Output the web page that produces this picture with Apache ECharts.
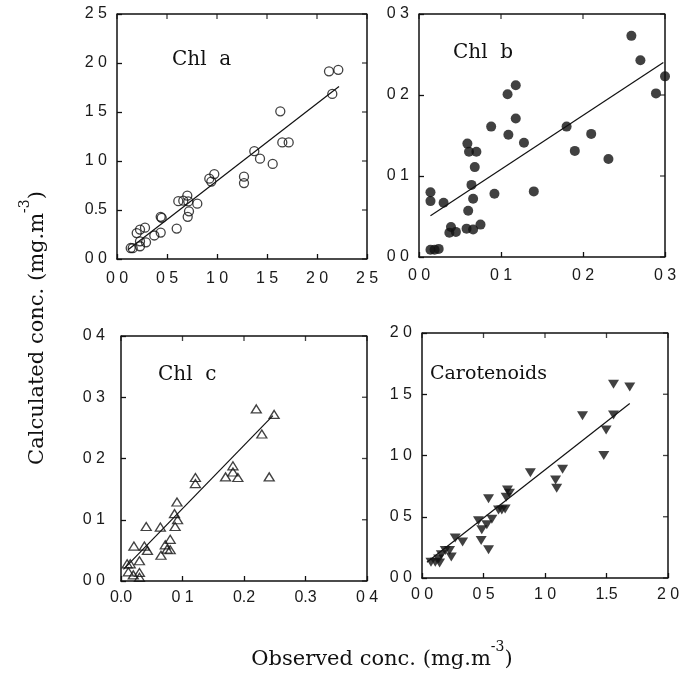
<!DOCTYPE html>
<html><head><meta charset="utf-8">
<script src="https://cdn.jsdelivr.net/npm/echarts@6/dist/echarts.min.js"></script>
<style>html,body{margin:0;padding:0;background:#fff}#c{width:683px;height:675px}#d{position:absolute;left:2px;top:600px;font:10px monospace;color:#c00;width:200px;white-space:pre-wrap}</style>
</head><body><div id="c"></div><div id="d"></div>
<script>
// ---- Data ----
const chlA = [[0.137,0.112],[0.157,0.11],[0.197,0.265],[0.23,0.30],[0.28,0.32],[0.23,0.18],[0.23,0.13],[0.29,0.17],
  [0.373,0.24],[0.437,0.27],[0.437,0.43],[0.447,0.42],[0.597,0.31],[0.613,0.59],[0.663,0.595],[0.703,0.646],
  [0.713,0.588],[0.72,0.486],[0.707,0.43],[0.803,0.565],[0.923,0.82],[0.943,0.79],[0.973,0.867],[1.27,0.84],
  [1.27,0.775],[1.373,1.10],[1.43,1.024],[1.557,0.97],[1.633,1.507],[1.653,1.19],[1.717,1.19],[2.12,1.915],
  [2.213,1.93],[2.153,1.684]];
const chlAFit = [[0.11,0.095],[2.22,1.76]];
const chlB = [[0.014,0.080],[0.014,0.069],[0.014,0.009],[0.019,0.009],[0.024,0.010],[0.030,0.067],[0.037,0.030],
  [0.039,0.037],[0.045,0.031],[0.059,0.140],[0.061,0.130],[0.070,0.130],[0.068,0.111],[0.064,0.089],[0.066,0.072],
  [0.060,0.057],[0.058,0.035],[0.066,0.034],[0.075,0.040],[0.088,0.161],[0.092,0.078],[0.108,0.201],[0.109,0.151],
  [0.118,0.212],[0.118,0.171],[0.128,0.141],[0.140,0.081],[0.180,0.161],[0.190,0.131],[0.210,0.152],[0.231,0.121],
  [0.259,0.273],[0.270,0.243],[0.289,0.202],[0.300,0.223]];
const chlBFit = [[0.014,0.051],[0.298,0.240]];
const chlC = [[0.010,0.028],[0.015,0.028],[0.012,0.015],[0.020,0.010],[0.030,0.014],[0.030,0.006],[0.030,0.033],
  [0.021,0.057],[0.038,0.057],[0.043,0.050],[0.041,0.089],[0.064,0.088],[0.065,0.042],[0.072,0.059],[0.075,0.052],
  [0.080,0.051],[0.080,0.068],[0.087,0.110],[0.088,0.089],[0.092,0.100],[0.091,0.129],[0.121,0.169],[0.121,0.159],
  [0.170,0.170],[0.182,0.188],[0.182,0.178],[0.190,0.169],[0.220,0.281],[0.229,0.240],[0.241,0.170],[0.249,0.272]];
const chlCFit = [[0.004,0.019],[0.247,0.27]];
const carot = [[0.073,0.128],[0.108,0.128],[0.135,0.155],[0.143,0.122],[0.157,0.190],[0.189,0.225],[0.224,0.225],
  [0.238,0.171],[0.270,0.326],[0.330,0.293],[0.459,0.467],[0.481,0.307],[0.486,0.393],[0.527,0.434],[0.541,0.646],
  [0.541,0.231],[0.568,0.48],[0.622,0.556],[0.649,0.556],[0.676,0.564],[0.684,0.659],[0.695,0.719],[0.711,0.692],
  [0.881,0.860],[1.086,0.80],[1.095,0.733],[1.143,0.887],[1.305,1.324],[1.478,0.999],[1.497,1.208],[1.557,1.330],
  [1.557,1.582],[1.689,1.560]];
const carotFit = [[0.04,0.128],[1.689,1.425]];

// tick labels as printed
const chlAX = ['0 0','0 5','1 0','1 5','2 0','2 5'];
const chlAY = ['0 0','0.5','1 0','1 5','2 0','2 5'];
const chlBX = ['0 0','0 1','0 2','0 3'];
const chlBY = ['0 0','0 1','0 2','0 3'];
const chlCX = ['0.0','0 1','0.2','0.3','0 4'];
const chlCY = ['0 0','0 1','0 2','0 3','0 4'];
const carX = ['0 0','0 5','1 0','1.5','2 0'];
const carY = ['0 0','0 5','1 0','1 5','2 0'];

const panelNames = ['Chl  a','Chl  b','Chl  c','Carotenoids'];

const dbg = document.getElementById('d');
window.onerror = function(m){ dbg.textContent += m + '\n'; };
try {
// ---- Layout ----
const boxes = [
  {left:117, top:14, width:250, height:245},
  {left:419, top:14, width:246, height:243},
  {left:121, top:336, width:246, height:245},
  {left:422, top:333, width:246, height:245}
];
const grids = boxes.map(b=>({left:b.left, top:b.top, width:b.width, height:b.height}));
const ranges = [
  {x:[0,2.5,0.5,chlAX], y:[0,2.5,0.5,chlAY], xm:12, ym:10},
  {x:[0,0.3,0.1,chlBX], y:[0,0.3,0.1,chlBY], xm:11, ym:10},
  {x:[0,0.4,0.1,chlCX], y:[0,0.4,0.1,chlCY], xm:9, ym:16},
  {x:[0,2.0,0.5,carX], y:[0,2.0,0.5,carY], xm:9, ym:10}
];

const xAxis = [], yAxis = [];
ranges.forEach((r,i)=>{
  const fx = r.x, fy = r.y;
  xAxis.push({type:'value', gridIndex:i, min:fx[0], max:fx[1], interval:fx[2],
    axisLine:{show:true, onZero:false, lineStyle:{color:'#111', width:1.5}},
    axisTick:{show:true, inside:true, length:5, lineStyle:{color:'#111', width:1.3}},
    axisLabel:{margin:r.xm, fontFamily:'Liberation Sans', fontSize:16, color:'#1a1a1a',
      formatter:function(v){ const k=Math.round(v/fx[2]); return fx[3][k] || ''; }},
    splitLine:{show:false}});
  yAxis.push({type:'value', gridIndex:i, min:fy[0], max:fy[1], interval:fy[2],
    axisLine:{show:true, onZero:false, lineStyle:{color:'#111', width:1.5}},
    axisTick:{show:true, inside:true, length:5, lineStyle:{color:'#111', width:1.3}},
    axisLabel:{margin:r.ym, fontFamily:'Liberation Sans', fontSize:16, color:'#1a1a1a',
      formatter:function(v){ const k=Math.round(v/fy[2]); return fy[3][k] || ''; }},
    splitLine:{show:false}});
});

const pts = [chlA, chlB, chlC, carot];
const fits = [chlAFit, chlBFit, chlCFit, carotFit];
const sym = [
  {symbol:'circle', symbolSize:9, itemStyle:{color:'rgba(0,0,0,0)', borderColor:'#111', borderWidth:1.3}},
  {symbol:'circle', symbolSize:10, itemStyle:{color:'#111'}},
  {symbol:'triangle', symbolSize:[10,8], itemStyle:{color:'rgba(0,0,0,0)', borderColor:'#111', borderWidth:1.3}},
  {symbol:'triangle', symbolSize:[11,9], symbolRotate:180, itemStyle:{color:'#111'}}
];
const series = [];
ranges.forEach((r,i)=>{
  const x0=r.x[0], x1=r.x[1], y0=r.y[0], y1=r.y[1];
  // top edge and right edge of the frame, from the axis extents
  series.push({type:'line', xAxisIndex:i, yAxisIndex:i, clip:false, symbol:'none', silent:true, z:5,
    data:[[x0,y1],[x1,y1],[x1,y0]], lineStyle:{color:'#111', width:1.5}});
  // mirrored inward ticks on the top and right edges
  const topTicks = r.x[3].map((_,k)=>[x0 + k*r.x[2], y1]);
  const rightTicks = r.y[3].map((_,k)=>[x1, y0 + k*r.y[2]]);
  series.push({type:'scatter', xAxisIndex:i, yAxisIndex:i, clip:false, silent:true, z:5,
    symbol:'rect', symbolSize:[1.3,5], symbolOffset:[0,2.5], itemStyle:{color:'#111'}, data:topTicks});
  series.push({type:'scatter', xAxisIndex:i, yAxisIndex:i, clip:false, silent:true, z:5,
    symbol:'rect', symbolSize:[5,1.3], symbolOffset:[-2.5,0], itemStyle:{color:'#111'}, data:rightTicks});
});
pts.forEach((d,i)=>{
  series.push(Object.assign({type:'scatter', xAxisIndex:i, yAxisIndex:i, data:d, silent:true}, sym[i]));
  series.push({type:'line', xAxisIndex:i, yAxisIndex:i, data:fits[i], symbol:'none', silent:true,
    lineStyle:{color:'#111', width:1.2}});
});

const graphic = [];
const panelPos = [[172,50],[453,43],[158,365],[430,365]];
panelNames.forEach((t,i)=>graphic.push({type:'text', x:panelPos[i][0], y:panelPos[i][1],
  style:{text:t, textVerticalAlign:'top', fontFamily:'DejaVu Serif', fontSize:i===3?19:20, fill:'#111'}}));

const axisRich = {
  m:{fontFamily:'DejaVu Serif', fontSize:21, color:'#111', lineHeight:30, verticalAlign:'bottom'},
  s:{fontFamily:'DejaVu Serif', fontSize:14, color:'#111', lineHeight:14, verticalAlign:'top'}
};
graphic.push({type:'text', x:382, y:655, style:{text:'{m|Observed conc. (mg.m}{s|-3}{m|)}', rich:axisRich,
  align:'center', verticalAlign:'middle', fill:'#111'}});
graphic.push({type:'text', x:33, y:328, rotation:Math.PI/2, style:{text:'{m|Calculated conc. (mg.m}{s|-3}{m|)}', rich:axisRich,
  align:'center', verticalAlign:'middle', fill:'#111'}});

const chart = echarts.init(document.getElementById('c'));
chart.setOption({animation:false, backgroundColor:'#fff', grid:grids, xAxis, yAxis, series, graphic});
} catch(e) { dbg.textContent += 'ERR ' + e.message; }
</script></body></html>
